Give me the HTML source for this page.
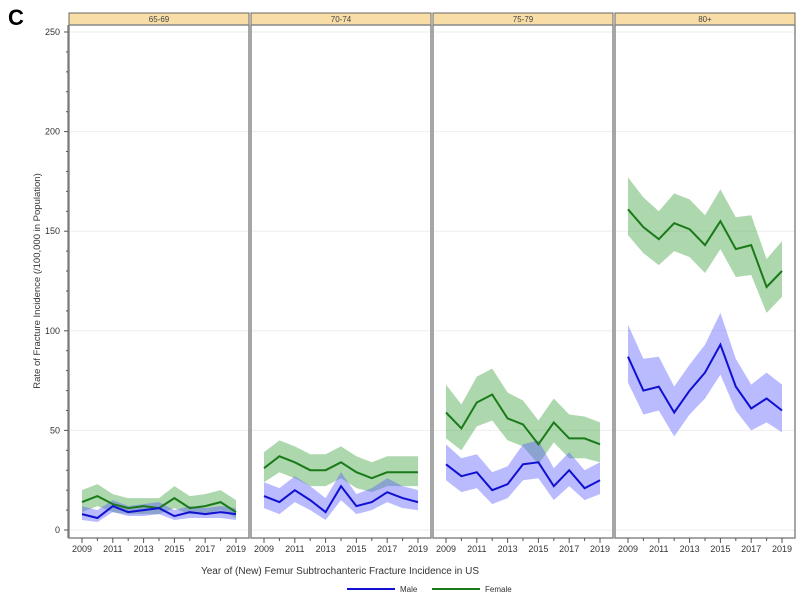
<!DOCTYPE html>
<html><head><meta charset="utf-8"><style>
body{margin:0;background:#fff;}
svg{display:block;font-family:"Liberation Sans",Arial,sans-serif;}
</style></head><body>
<svg id="chart" width="797" height="595" viewBox="0 0 797 595">
<text x="8" y="25" font-size="22" font-weight="bold" fill="#000">C</text>
<text transform="translate(40,281) rotate(-90)" text-anchor="middle" font-size="9.5" fill="#333">Rate of Fracture Incidence (/100,000 in Population)</text>
<text x="340" y="574" text-anchor="middle" font-size="10" fill="#333">Year of (New) Femur Subtrochanteric Fracture Incidence in US</text>
<g>
<line x1="347" y1="589" x2="395" y2="589" stroke="#1010d0" stroke-width="2"/>
<text x="400" y="592" font-size="8" fill="#333">Male</text>
<line x1="432" y1="589" x2="480" y2="589" stroke="#1a7a1a" stroke-width="2"/>
<text x="485" y="592" font-size="8" fill="#333">Female</text>
</g>
<g id="plots"></g>
</svg>
<script>
const panels = ["65-69","70-74","75-79","80+"];
const years = [2009,2010,2011,2012,2013,2014,2015,2016,2017,2018,2019];
const yTicks = [0,50,100,150,200,250];
const xTickLabels = [2009,2011,2013,2015,2017,2019];
const male = [
 [8,6,12,9,10,11,7,9,8,9,8],
 [17,14,20,15,9,22,12,14,19,16,14],
 [33,27,29,20,23,33,34,22,30,21,25],
 [87,70,72,59,70,79,93,72,61,66,60]
];
const maleLo = [
 [5,4,9,7,7,8,5,6,6,6,5],
 [11,8,14,10,5,15,8,10,14,11,10],
 [25,19,21,13,16,25,26,15,22,15,18],
 [74,58,60,47,58,66,78,60,50,54,49]
];
const maleHi = [
 [12,10,15,12,13,14,10,12,11,12,11],
 [24,21,27,22,16,29,18,21,26,22,20],
 [43,36,38,29,32,43,45,31,39,30,34],
 [103,86,87,72,83,93,109,86,73,79,73]
];
const female = [
 [14,17,13,11,12,11,16,11,12,14,9],
 [31,37,34,30,30,34,29,26,29,29,29],
 [59,51,64,68,56,53,43,54,46,46,43],
 [161,152,146,154,151,143,155,141,143,122,130]
];
const femLo = [
 [9,12,9,8,8,8,11,8,8,10,6],
 [24,29,26,22,22,26,21,19,22,22,22],
 [46,40,52,55,45,42,33,44,36,36,34],
 [148,139,133,140,137,129,141,127,128,109,117]
];
const femHi = [
 [20,23,18,16,16,16,22,17,18,20,15],
 [39,45,42,38,38,42,37,34,37,37,37],
 [73,63,77,81,69,65,55,66,58,57,54],
 [177,167,160,169,166,158,171,157,158,136,145]
];
const panelX = [69,251,433,615], panelW = 180;
const plotTop = 25, plotBot = 538, stripTop = 13;
function yScale(v){ return 530 - v*1.992; }
function xScale(p, yr){ return panelX[p] + 13 + (yr-2009)*(panelW-26)/10; }
const NS="http://www.w3.org/2000/svg";
const g=document.getElementById('plots');
function mk(tag, attrs, parent){ const e=document.createElementNS(NS,tag); for(const k in attrs) e.setAttribute(k,attrs[k]); (parent||g).appendChild(e); return e; }
// y axis
const ya=mk('g',{});


mk('line',{x1:68,y1:plotTop,x2:68,y2:plotBot,stroke:'#555','stroke-width':1},ya);
for(let v=0; v<=250; v+=10){ const y=yScale(v); const major=v%50===0;
  mk('line',{x1:major?64:66,y1:y,x2:68,y2:y,stroke:'#555','stroke-width':1},ya); }
yTicks.forEach(v=>{ const t=mk('text',{x:60,y:yScale(v)+3,'text-anchor':'end','font-size':9,fill:'#333'},ya); t.textContent=v;
  
   });
function pathFrom(xs, ys){ return xs.map((x,i)=>(i?'L':'M')+x.toFixed(1)+','+ys[i].toFixed(1)).join(''); }
panels.forEach((name,p)=>{
  const pg=mk('g',{});
  
  
  const x0=panelX[p];
  mk('rect',{x:x0,y:stripTop,width:panelW,height:plotTop-stripTop,fill:'#f8dea6',stroke:'#666','stroke-width':1},pg);
  const st=mk('text',{x:x0+panelW/2,y:stripTop+9,'text-anchor':'middle','font-size':8,fill:'#444'},pg); st.textContent=name;
  
  
  mk('rect',{x:x0,y:plotTop,width:panelW,height:plotBot-plotTop,fill:'#fff',stroke:'#888','stroke-width':1.5},pg);
  yTicks.forEach(v=>mk('line',{x1:x0+1,y1:yScale(v),x2:x0+panelW-1,y2:yScale(v),stroke:'#eee','stroke-width':1},pg));
  const xs=years.map(yr=>xScale(p,yr));
  [[femLo,femHi,'rgba(60,160,60,0.42)','female-band'],[maleLo,maleHi,'rgba(90,90,255,0.42)','male-band']].forEach(([lo,hi,c,n])=>{
    const pts=xs.map((x,i)=>x+','+yScale(hi[p][i])).concat(xs.slice().reverse().map((x,j)=>x+','+yScale(lo[p][10-j])));
    const b=mk('polygon',{points:pts.join(' '),fill:c,stroke:'none'},pg);
    
    
  });
  const fl=mk('path',{d:pathFrom(xs,female[p].map(yScale)),fill:'none',stroke:'#1a7a1a','stroke-width':2},pg);
  
  
  const ml=mk('path',{d:pathFrom(xs,male[p].map(yScale)),fill:'none',stroke:'#1010d0','stroke-width':2},pg);
  
  
  years.forEach(yr=>{ const x=xScale(p,yr); const major=(yr-2009)%2===0;
    mk('line',{x1:x,y1:plotBot,x2:x,y2:plotBot+(major?5:3),stroke:'#555','stroke-width':1},pg); });
  xTickLabels.forEach(yr=>{ const t=mk('text',{x:xScale(p,yr),y:plotBot+14,'text-anchor':'middle','font-size':9,fill:'#333'},pg); t.textContent=yr;
    
     });
});
</script>
</body></html>
